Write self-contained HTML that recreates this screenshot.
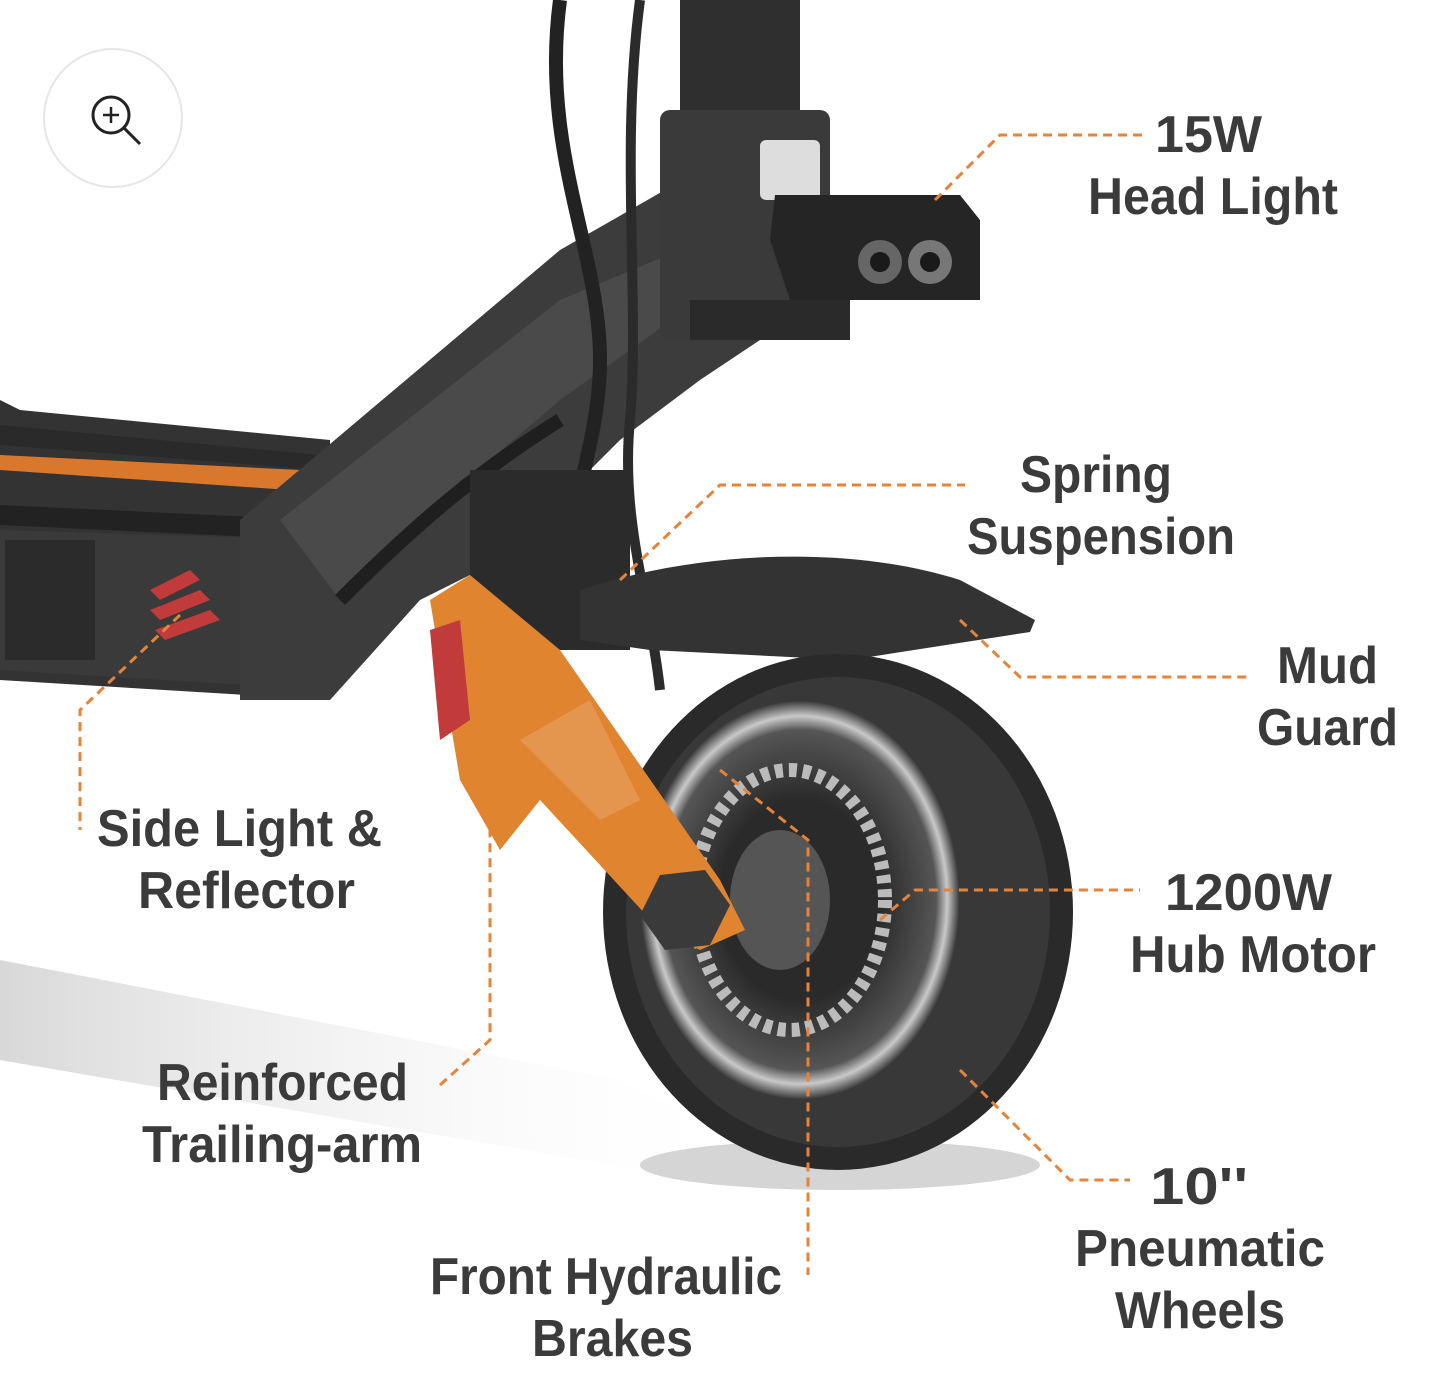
<!DOCTYPE html>
<html><head><meta charset="utf-8"><style>
html,body{margin:0;padding:0;background:#fff}
svg{display:block}
.t{font-family:"Liberation Sans",sans-serif;font-weight:bold;font-size:52px;fill:#3b3b3b}
.d{stroke:#e3843a;stroke-width:3;stroke-dasharray:9 6;fill:none}
</style></head><body>
<svg width="1440" height="1395" viewBox="0 0 1440 1395" xmlns="http://www.w3.org/2000/svg">
<defs>
<linearGradient id="sh" x1="0" y1="0" x2="1" y2="0"><stop offset="0" stop-color="#d8d8d8"/><stop offset="1" stop-color="#ffffff" stop-opacity="0"/></linearGradient>
<radialGradient id="rim" cx="0.5" cy="0.5" r="0.5"><stop offset="0.5" stop-color="#2a2a2a"/><stop offset="0.85" stop-color="#555"/><stop offset="0.92" stop-color="#c9c9c9"/><stop offset="1" stop-color="#333"/></radialGradient>
</defs>
<rect width="1440" height="1395" fill="#fff"/>
<path d="M0 960 L620 1080 L760 1150 L700 1180 L0 1060 Z" fill="url(#sh)"/>
<ellipse cx="840" cy="1165" rx="200" ry="25" fill="#d5d5d5"/>
<path d="M0 400 L20 410 L330 440 L330 700 L0 680 Z" fill="#333"/>
<path d="M0 425 L320 455 L320 470 L0 445 Z" fill="#2a2a2a"/>
<path d="M0 455 L300 470 L290 490 L0 470 Z" fill="#d9782c"/>
<path d="M0 505 L320 520 L320 540 L0 525 Z" fill="#222"/>
<path d="M0 530 L330 540 L330 690 L0 670 Z" fill="#3a3a3a"/>
<rect x="5" y="540" width="90" height="120" fill="#2b2b2b"/>
<path d="M150 590 L190 570 L200 580 L160 600Z M150 610 L200 590 L210 600 L160 620Z M155 630 L210 610 L220 620 L165 640Z" fill="#c23b3b"/>
<path d="M240 520 L560 250 L700 170 L760 200 L760 340 L700 380 L620 440 L500 560 L420 600 L330 700 L240 700 Z" fill="#3c3c3c"/>
<path d="M280 520 L560 300 L680 250 L700 300 L560 400 L420 520 L340 600 Z" fill="#4a4a4a"/>
<rect x="680" y="0" width="120" height="120" fill="#2f2f2f"/>
<rect x="660" y="110" width="170" height="230" rx="10" fill="#3a3a3a"/>
<rect x="760" y="140" width="60" height="60" rx="6" fill="#ddd"/>
<rect x="690" y="300" width="160" height="40" fill="#2a2a2a"/>
<path d="M560 0 C540 150 600 250 600 360 C600 450 560 520 560 640" stroke="#222" stroke-width="14" fill="none"/>
<path d="M640 0 C620 150 640 300 630 420 C620 520 650 600 660 690" stroke="#2b2b2b" stroke-width="10" fill="none"/>
<path d="M340 600 C420 520 480 470 560 420" stroke="#1f1f1f" stroke-width="14" fill="none"/>
<path d="M775 195 L960 195 L980 220 L980 300 L790 300 L770 240 Z" fill="#252525"/>
<circle cx="880" cy="262" r="22" fill="#666"/><circle cx="930" cy="262" r="22" fill="#777"/>
<circle cx="880" cy="262" r="10" fill="#1a1a1a"/><circle cx="930" cy="262" r="10" fill="#1a1a1a"/>
<rect x="470" y="470" width="160" height="180" fill="#2b2b2b"/>
<path d="M580 590 C700 550 850 545 960 580 L1035 620 L1030 632 L850 660 L650 650 L580 640 Z" fill="#333"/>
<ellipse cx="838" cy="912" rx="235" ry="258" fill="#2a2a2a"/>
<ellipse cx="838" cy="912" rx="212" ry="235" fill="#383838"/>
<ellipse cx="800" cy="900" rx="160" ry="200" fill="url(#rim)"/>
<ellipse cx="790" cy="900" rx="95" ry="130" fill="none" stroke="#bbb" stroke-width="14" stroke-dasharray="8 6"/>
<ellipse cx="780" cy="900" rx="50" ry="70" fill="#555"/>
<path d="M430 600 L470 575 L560 650 L720 880 L745 930 L700 950 L660 930 L540 800 L500 850 L460 780 Z" fill="#e0842f"/>
<path d="M520 740 L590 700 L640 800 L600 820 Z" fill="#fff" opacity="0.15"/>
<path d="M430 630 L460 620 L470 720 L440 740 Z" fill="#c23b3b"/>
<polygon points="660,875 705,870 730,905 710,945 665,950 640,915" fill="#3a3a3a"/>
<circle cx="113" cy="118" r="69" fill="#fff" stroke="#e6e6e6" stroke-width="2"/>
<circle cx="111" cy="115" r="18" fill="none" stroke="#222" stroke-width="3"/>
<line x1="124" y1="128" x2="140" y2="144" stroke="#222" stroke-width="3"/>
<line x1="103" y1="115" x2="119" y2="115" stroke="#222" stroke-width="2.5"/>
<line x1="111" y1="107" x2="111" y2="123" stroke="#222" stroke-width="2.5"/>
<path class="d" d="M935 200 L1000 135 L1145 135"/>
<path class="d" d="M620 580 L720 485 L965 485"/>
<path class="d" d="M960 620 L1020 677 L1250 677"/>
<path class="d" d="M880 920 L915 890 L1140 890"/>
<path class="d" d="M960 1070 L1070 1180 L1130 1180"/>
<path class="d" d="M720 770 L808 840 L808 1275"/>
<path class="d" d="M440 1085 L490 1040 L490 830"/>
<path class="d" d="M180 615 L80 710 L80 830"/>
<text class="t" x="1155" y="152" textLength="107" lengthAdjust="spacingAndGlyphs">15W</text>
<text class="t" x="1088" y="214" textLength="250" lengthAdjust="spacingAndGlyphs">Head Light</text>
<text class="t" x="1020" y="492" textLength="152" lengthAdjust="spacingAndGlyphs">Spring</text>
<text class="t" x="967" y="554" textLength="268" lengthAdjust="spacingAndGlyphs">Suspension</text>
<text class="t" x="1277" y="683" textLength="101" lengthAdjust="spacingAndGlyphs">Mud</text>
<text class="t" x="1257" y="745" textLength="141" lengthAdjust="spacingAndGlyphs">Guard</text>
<text class="t" x="97" y="846" textLength="285" lengthAdjust="spacingAndGlyphs">Side Light &amp;</text>
<text class="t" x="138" y="908" textLength="217" lengthAdjust="spacingAndGlyphs">Reflector</text>
<text class="t" x="1165" y="910" textLength="167" lengthAdjust="spacingAndGlyphs">1200W</text>
<text class="t" x="1130" y="972" textLength="246" lengthAdjust="spacingAndGlyphs">Hub Motor</text>
<text class="t" x="157" y="1100" textLength="251" lengthAdjust="spacingAndGlyphs">Reinforced</text>
<text class="t" x="142" y="1162" textLength="280" lengthAdjust="spacingAndGlyphs">Trailing-arm</text>
<text class="t" x="1150" y="1204" textLength="98" lengthAdjust="spacingAndGlyphs">10''</text>
<text class="t" x="1075" y="1266" textLength="250" lengthAdjust="spacingAndGlyphs">Pneumatic</text>
<text class="t" x="1115" y="1328" textLength="170" lengthAdjust="spacingAndGlyphs">Wheels</text>
<text class="t" x="430" y="1294" textLength="352" lengthAdjust="spacingAndGlyphs">Front Hydraulic</text>
<text class="t" x="532" y="1356" textLength="161" lengthAdjust="spacingAndGlyphs">Brakes</text>
</svg>
</body></html>
